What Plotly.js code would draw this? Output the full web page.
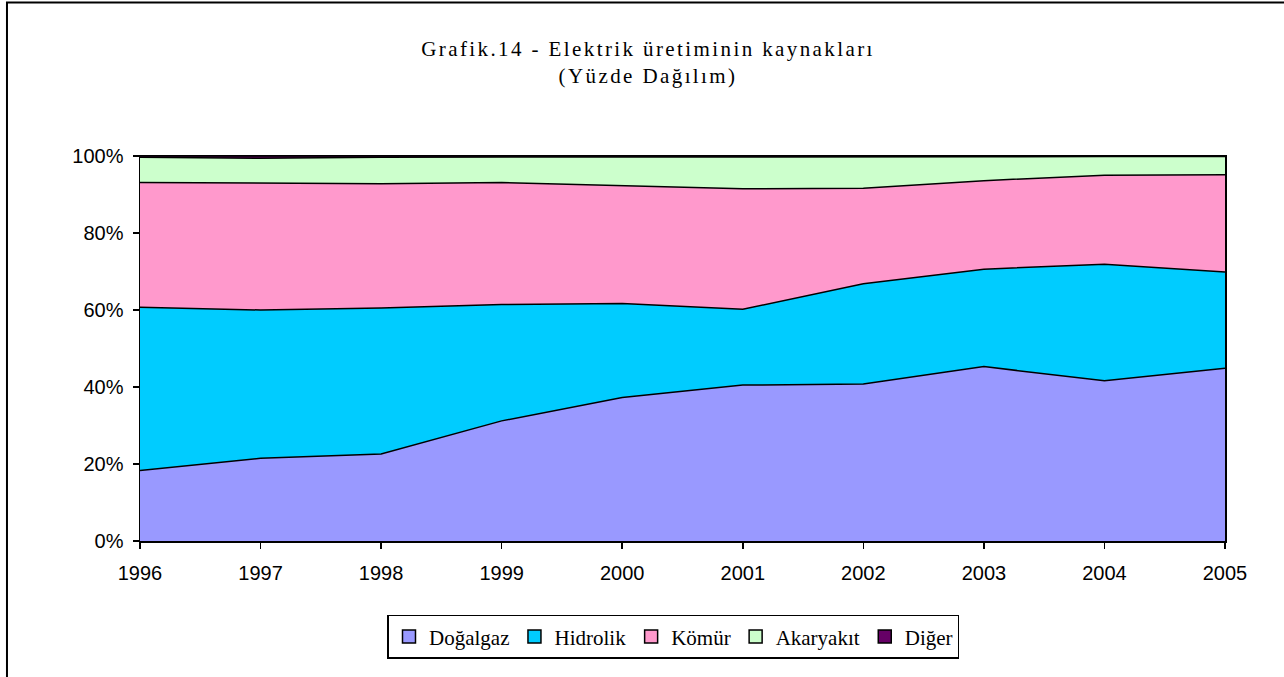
<!DOCTYPE html>
<html>
<head>
<meta charset="utf-8">
<script src="https://cdn.plot.ly/plotly-3.0.1.min.js"></script>
<style>
html,body{margin:0;padding:0;background:#fff;}
#chart{width:1284px;height:677px;}
.gtitle{letter-spacing:2.4px;}
</style>
</head>
<body>
<div id="chart"></div>
<script>
const years = ["1996","1997","1998","1999","2000","2001","2002","2003","2004","2005"];
const dogalgaz  = [18.3, 21.5, 22.6, 31.2, 37.3, 40.5, 40.8, 45.3, 41.6, 44.9];
const hidrolik  = [42.4, 38.5, 37.9, 30.2, 24.4, 19.7, 26.0, 25.3, 30.3, 25.0];
const komur     = [32.4, 32.9, 32.3, 31.7, 30.6, 31.3, 24.8, 23.0, 23.1, 25.2];
const akaryakit = [6.6, 6.5, 6.9, 6.6, 7.5, 8.3, 8.2, 6.2, 4.9, 4.8];
const diger     = [0.3, 0.6, 0.3, 0.3, 0.2, 0.2, 0.2, 0.2, 0.1, 0.1];

const seriesNames = ["Doğalgaz", "Hidrolik", "Kömür", "Akaryakıt", "Diğer"];
const seriesData = [dogalgaz, hidrolik, komur, akaryakit, diger];
const colors = ["#9999FF", "#00CCFF", "#FF99CC", "#CCFFCC", "#660066"];

const areaTraces = seriesNames.map((n, i) => ({
  type: "scatter",
  mode: "lines",
  name: n,
  x: years,
  y: seriesData[i],
  stackgroup: "one",
  groupnorm: "percent",
  fillcolor: colors[i],
  line: {color: "#000000", width: 1.5},
  showlegend: false,
  hoverinfo: "x+y+name"
}));

// legend-only entries with square swatches
const legendTraces = seriesNames.map((n, i) => ({
  type: "scatter",
  mode: "markers",
  name: n,
  x: [null],
  y: [null],
  marker: {symbol: "square", size: 13, color: colors[i], line: {color: "#000", width: 1.5}},
  showlegend: true,
  hoverinfo: "skip"
}));

const layout = {
  width: 1284, height: 677,
  paper_bgcolor: "#ffffff", plot_bgcolor: "#ffffff",
  margin: {l: 140, r: 59, t: 156, b: 136},
  title: {
    text: "Grafik.14 - Elektrik üretiminin kaynakları<br>(Yüzde Dağılım)",
    font: {family: "Liberation Serif, Times New Roman, serif", size: 21, color: "#000"},
    x: 0.5047, xref: "container", xanchor: "center",
    y: 0.917, yref: "container", yanchor: "top"
  },
  xaxis: {
    type: "category",
    range: [0, 9],
    showgrid: false, zeroline: false,
    showline: true, linecolor: "#000", linewidth: 1.5, mirror: true,
    ticks: "outside", ticklen: 6, tickcolor: "#000", tickwidth: 1.5,
    ticklabelstandoff: 7,
    tickfont: {family: "Liberation Sans, Arial, sans-serif", size: 20, color: "#000"}
  },
  yaxis: {
    range: [0, 100],
    tickvals: [0, 20, 40, 60, 80, 100],
    ticktext: ["0%", "20%", "40%", "60%", "80%", "100%"],
    showgrid: false, zeroline: false,
    showline: true, linecolor: "#000", linewidth: 1.5, mirror: true,
    ticks: "outside", ticklen: 6, tickcolor: "#000", tickwidth: 1.5,
    ticklabelstandoff: 5,
    tickfont: {family: "Liberation Sans, Arial, sans-serif", size: 20, color: "#000"}
  },
  showlegend: true,
  legend: {
    orientation: "h",
    x: 0.4917, xanchor: "center",
    y: -0.192, yanchor: "top",
    bordercolor: "#000", borderwidth: 1.5, bgcolor: "#fff",
    font: {family: "Liberation Serif, Times New Roman, serif", size: 21, color: "#000"},
    traceorder: "normal",
    itemwidth: 30
  },
  shapes: [{
    type: "rect", xref: "paper", yref: "paper",
    x0: -0.1226, x1: 1.069, y0: -0.413, y1: 1.3987,
    line: {color: "#000", width: 2}
  }]
};

Plotly.newPlot("chart", areaTraces.concat(legendTraces), layout, {displayModeBar: false, staticPlot: true});
</script>
</body>
</html>
